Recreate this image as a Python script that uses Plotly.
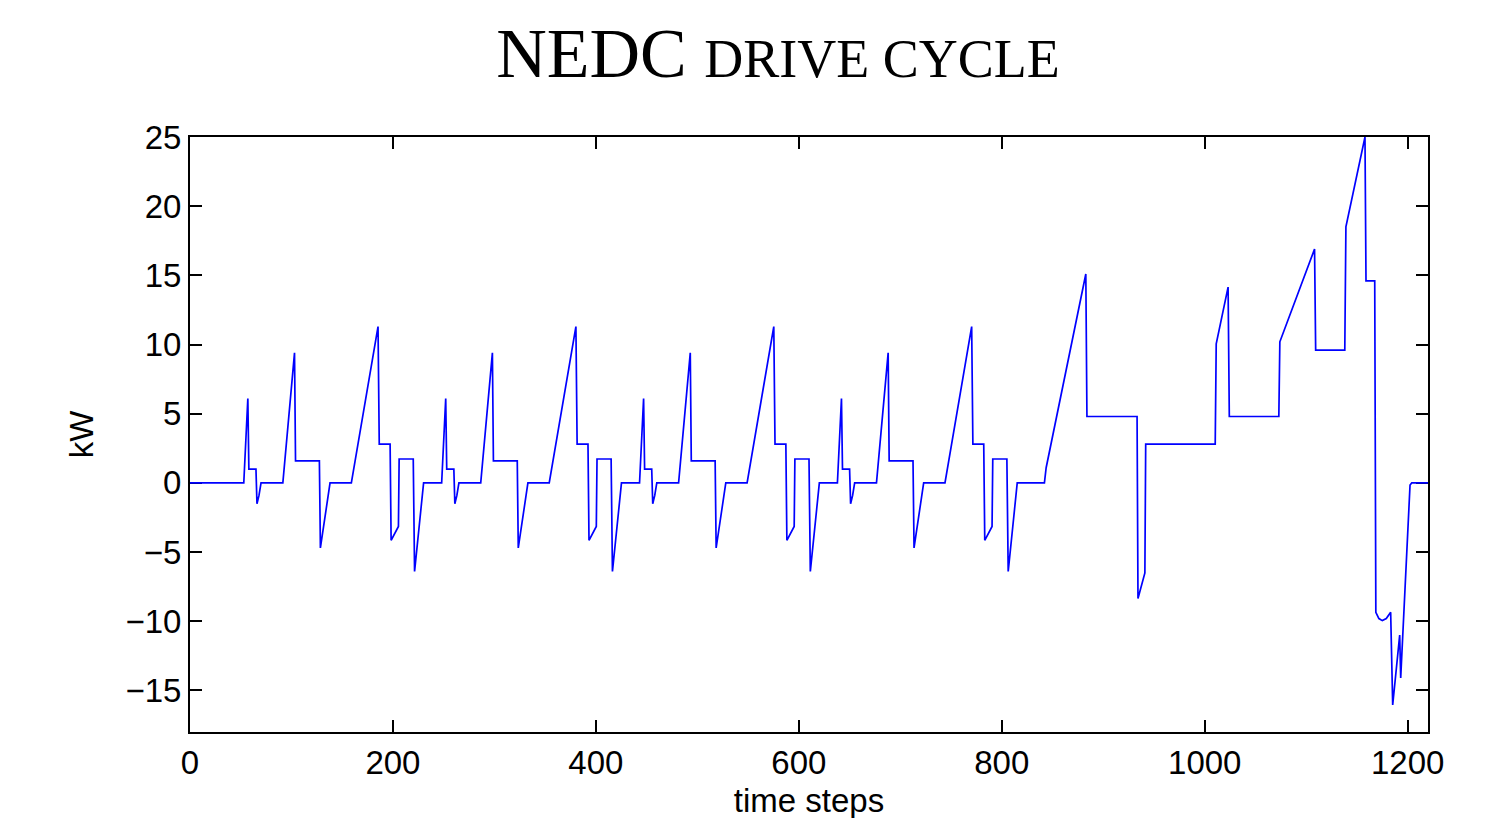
import plotly.graph_objects as go

# ---- data ----
time_steps = [
    # urban cycle 1
    0, 53, 57, 58, 65, 66, 68, 70, 91.5, 103, 104, 127.5, 128.5, 138, 159, 185.3, 186.5, 197.2, 198.2, 205.4, 206.1, 220, 221.3, 230.2,
    # urban cycle 2
    248, 252, 253, 260, 261, 263, 265, 286.5, 298, 299, 322.5, 323.5, 333, 354, 380.3, 381.5, 392.2, 393.2, 400.4, 401.1, 415, 416.3, 425.2,
    # urban cycle 3
    443, 447, 448, 455, 456, 458, 460, 481.5, 493, 494, 517.5, 518.5, 528, 549, 575.3, 576.5, 587.2, 588.2, 595.4, 596.1, 610, 611.3, 620.2,
    # urban cycle 4
    638, 642, 643, 650, 651, 653, 655, 676.5, 688, 689, 712.5, 713.5, 723, 744, 770.3, 771.5, 782.2, 783.2, 790.4, 791.1, 805, 806.3, 815.2,
    # extra-urban part
    842, 843.7, 882.8, 883.9, 933.3, 934.2, 941, 941.8, 1010.3, 1011.3, 1023, 1024.2, 1073, 1074, 1108.2, 1109.3, 1138, 1139.1,
    1157.9, 1158.9, 1167.5, 1168.6, 1171.6, 1175.0, 1178.9, 1183.2, 1185.2, 1192.1, 1193.1, 1202.3, 1204.0, 1220,
]

power_kw = [
    # urban cycle 1
    0, 0, 6.1, 1.0, 1.0, -1.5, -0.9, 0, 0, 9.4, 1.6, 1.6, -4.7, 0, 0, 11.3, 2.8, 2.8, -4.15, -3.15, 1.73, 1.73, -6.4, 0,
    # urban cycle 2
    0, 6.1, 1.0, 1.0, -1.5, -0.9, 0, 0, 9.4, 1.6, 1.6, -4.7, 0, 0, 11.3, 2.8, 2.8, -4.15, -3.15, 1.73, 1.73, -6.4, 0,
    # urban cycle 3
    0, 6.1, 1.0, 1.0, -1.5, -0.9, 0, 0, 9.4, 1.6, 1.6, -4.7, 0, 0, 11.3, 2.8, 2.8, -4.15, -3.15, 1.73, 1.73, -6.4, 0,
    # urban cycle 4
    0, 6.1, 1.0, 1.0, -1.5, -0.9, 0, 0, 9.4, 1.6, 1.6, -4.7, 0, 0, 11.3, 2.8, 2.8, -4.15, -3.15, 1.73, 1.73, -6.4, 0,
    # extra-urban part
    0, 1.1, 15.1, 4.8, 4.8, -8.35, -6.5, 2.8, 2.8, 10.05, 14.15, 4.8, 4.8, 10.2, 16.9, 9.6, 9.6, 18.5,
    25.0, 14.6, 14.6, -9.35, -9.8, -9.95, -9.8, -9.35, -16.05, -11.0, -14.1, -0.15, 0, 0,
]

x_ticks = [0, 200, 400, 600, 800, 1000, 1200]
y_ticks = [-15, -10, -5, 0, 5, 10, 15, 20, 25]

SANS = "Liberation Sans, Arial, Helvetica, sans-serif"

fig = go.Figure()
fig.add_trace(go.Scatter(
    x=time_steps, y=power_kw, mode="lines",
    line=dict(color="#0000FF", width=1.7),
    showlegend=False,
))

axis_common = dict(
    showline=True, linecolor="black", linewidth=2, mirror="ticks",
    ticks="inside", ticklen=12, tickwidth=1.5, tickcolor="black",
    showgrid=False, zeroline=False, layer="below traces",
    tickfont=dict(family=SANS, size=33, color="black"),
)

fig.update_layout(
    width=1491, height=818,
    margin=dict(l=182, r=71, t=129, b=94),
    paper_bgcolor="white", plot_bgcolor="white",
    title=dict(
        text="NEDC <span style='font-size:54px'>DRIVE CYCLE</span>",
        font=dict(family="Liberation Serif, Times New Roman, serif", size=70, color="black"),
        x=770 / 1491, xanchor="center", xref="container",
        y=1 - 44 / 818, yanchor="middle", yref="container",
    ),
    xaxis=dict(
        range=[0, 1220], tickvals=x_ticks,
        title=dict(text="time steps", standoff=9,
                   font=dict(family=SANS, size=33, color="black")),
        **axis_common,
    ),
    yaxis=dict(
        range=[-18, 25], tickvals=y_ticks,
        title=dict(text="kW", standoff=22,
                   font=dict(family=SANS, size=33, color="black")),
        **axis_common,
    ),
)

fig.write_html("out.html")
